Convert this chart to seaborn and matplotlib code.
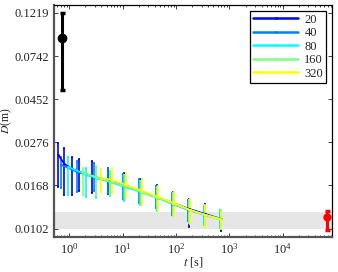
import matplotlib
matplotlib.use("Agg")
import matplotlib.pyplot as plt
import matplotlib.ticker as mticker
import numpy as np
import pandas as pd
import seaborn as sns

OUTPUT_FILE_NAME = "out.png"

# series labels and colours (jet-like)
LABELS = ["20", "40", "80", "160", "320"]
COLORS = ["#0000ff", "#0080ff", "#00ffff", "#80ff80", "#ffff00"]

# time [s] of every point, per series
t_20 = [0.62, 0.81, 1.14, 1.54, 2.69, 5.36, 10.7, 21.2, 44.2, 88, 175, 349, 694]
t_40 = [0.71, 1.41, 2.93, 5.36, 10.2, 20.3, 42.3, 84, 168, 334, 664]
t_80 = [0.96, 2.08, 3.2, 5.84, 10.7, 21.2, 44, 88, 175, 334, 664]
t_160 = [1.83, 3.2, 5.84, 11.1, 22.2, 44.2, 88, 175, 349, 694]
t_320 = [3.96, 6.3, 11.6, 23.1, 46.1, 91.8, 183, 349, 694]

# mean D (m)
d_20 = [0.0239, 0.0215, 0.0203, 0.0196, 0.01875, 0.0177, 0.0167, 0.0158, 0.0147, 0.01375, 0.01284, 0.01212, 0.01144]
d_40 = [0.0213, 0.0196, 0.0185, 0.0177, 0.0167, 0.0158, 0.0147, 0.0136, 0.0127, 0.0120, 0.0114]
d_80 = [0.0208, 0.0190, 0.0183, 0.0175, 0.01653, 0.0156, 0.01456, 0.01359, 0.01269, 0.0120, 0.01144]
d_160 = [0.0194, 0.01854, 0.0175, 0.0167, 0.0156, 0.01456, 0.01359, 0.01269, 0.0120, 0.01144]
d_320 = [0.01832, 0.0179, 0.01691, 0.0158, 0.01473, 0.01375, 0.01269, 0.0120, 0.01131]

# upper end of error bars
hi_20 = [0.0274, 0.0259, 0.0233, 0.0228, 0.0223, 0.0206, 0.0194, 0.0181, 0.0169, 0.0156, 0.0144, 0.0136, 0.0124]
hi_40 = [0.0233, 0.0223, 0.0218, 0.0206, 0.0192, 0.0181, 0.0167, 0.0154, 0.0142, 0.0133, 0.0127]
hi_80 = [0.0233, 0.0206, 0.0208, 0.0199, 0.0190, 0.0177, 0.0165, 0.0154, 0.0142, 0.0133, 0.0127]
hi_160 = [0.0206, 0.0210, 0.0199, 0.0190, 0.0177, 0.0165, 0.0154, 0.0142, 0.0133, 0.0127]
hi_320 = [0.0203, 0.0206, 0.0194, 0.0181, 0.0167, 0.0156, 0.0144, 0.0134, 0.0125]

# lower end of error bars
lo_20 = [0.0165, 0.0151, 0.0151, 0.0158, 0.0154, 0.0153, 0.0144, 0.0138, 0.0128, 0.0121, 0.0104, 0.0107, 0.0100]
lo_40 = [0.0163, 0.0156, 0.0158, 0.0154, 0.0144, 0.0138, 0.0130, 0.0120, 0.0112, 0.0108, 0.0103]
lo_80 = [0.0151, 0.0147, 0.0146, 0.0149, 0.0141, 0.0134, 0.0127, 0.0120, 0.0112, 0.0107, 0.0103]
lo_160 = [0.0151, 0.0149, 0.0151, 0.0144, 0.0134, 0.0125, 0.0118, 0.0109, 0.0104, 0.0103]
lo_320 = [0.0156, 0.0154, 0.0147, 0.0136, 0.0128, 0.0118, 0.0108, 0.0104, 0.0102]

# reference points: short time (black) and long time (red)
ref_t = [0.74, 66000]
ref_d = [0.0914, 0.0117]
ref_lo = [0.0502, 0.0101]
ref_hi = [0.1219, 0.0125]
ref_colors = ["black", "red"]

# grey band
band = [0.0102, 0.01245]

y_ticks = [0.0102, 0.0168, 0.0276, 0.0452, 0.0742, 0.1219]

series_t = [t_20, t_40, t_80, t_160, t_320]
series_d = [d_20, d_40, d_80, d_160, d_320]
series_hi = [hi_20, hi_40, hi_80, hi_160, hi_320]
series_lo = [lo_20, lo_40, lo_80, lo_160, lo_320]

frames = []
for label, t, d, lo, hi in zip(LABELS, series_t, series_d, series_lo, series_hi):
    frames.append(pd.DataFrame({"t": t, "D": d, "lo": lo, "hi": hi, "N": label}))
data = pd.concat(frames, ignore_index=True)

sns.set_style("ticks")
plt.rcParams["font.family"] = ["Liberation Serif", "DejaVu Serif"]
plt.rcParams["mathtext.fontset"] = "stix"

fig = plt.figure(figsize=(3.38, 2.72), dpi=100)
ax = fig.add_axes([0.160, 0.129, 0.822, 0.853])

ax.axhspan(band[0], band[1], color="#e6e6e6", zorder=0, lw=0)

palette = dict(zip(LABELS, COLORS))

# error bars first, lines on top
for label, group in data.groupby("N", sort=False):
    ax.errorbar(group["t"], group["D"],
                yerr=[group["D"] - group["lo"], group["hi"] - group["D"]],
                fmt="none", ecolor=palette[label], elinewidth=1.2,
                capsize=1.0, capthick=1.2, zorder=2)

sns.lineplot(data=data, x="t", y="D", hue="N", palette=palette,
             hue_order=LABELS, marker=".", markersize=4, markeredgewidth=0,
             linewidth=1.2, estimator=None, sort=True, ax=ax, zorder=3)

for t, d, lo, hi, c in zip(ref_t, ref_d, ref_lo, ref_hi, ref_colors):
    ax.errorbar([t], [d], yerr=[[d - lo], [hi - d]], fmt="o", color=c,
                ms=6 if c == "black" else 5, elinewidth=2.2,
                capsize=1.8, capthick=2.5, zorder=4)

ax.set_xscale("log")
ax.set_yscale("log")
ax.set_xlim(0.52, 83000)
ax.set_ylim(0.0093, 0.1336)

ax.set_yticks(y_ticks)
ax.set_yticklabels([f"{v:.4f}" for v in y_ticks])
ax.yaxis.set_minor_locator(mticker.NullLocator())
ax.set_xticks([1, 10, 100, 1000, 10000])
ax.xaxis.set_major_formatter(mticker.LogFormatterMathtext())
ax.xaxis.set_minor_locator(mticker.LogLocator(base=10, subs=np.arange(2, 10)))
ax.xaxis.set_minor_formatter(mticker.NullFormatter())

ax.tick_params(axis="both", which="both", direction="in", top=True,
               right=True, labelsize=9, length=3, width=0.6)
ax.tick_params(axis="x", which="minor", length=1.5)
ax.tick_params(axis="x", pad=4)

for side in ["left", "bottom"]:
    ax.spines[side].set_linewidth(1.6)
    ax.spines[side].set_color("#555555")
for side in ["top", "right"]:
    ax.spines[side].set_linewidth(0.9)
    ax.spines[side].set_color("black")

ax.set_xlabel(r"$t$ [s]", fontsize=9)
ax.set_ylabel(r"$D$(m)", fontsize=8.5)
ax.xaxis.set_label_coords(0.5, -0.08)
ax.yaxis.set_label_coords(-0.143, 0.5)

handles, labels = ax.get_legend_handles_labels()
for h in handles:
    h.set_linewidth(1.8)
leg = ax.legend(handles, labels, loc="upper right", fontsize=9,
                frameon=True, fancybox=False, framealpha=1,
                edgecolor="black", handlelength=3.6, borderpad=0.25,
                labelspacing=0.12, handletextpad=0.5,
                borderaxespad=0.45)
leg.get_frame().set_linewidth(0.9)

fig.savefig(OUTPUT_FILE_NAME, dpi=100)
